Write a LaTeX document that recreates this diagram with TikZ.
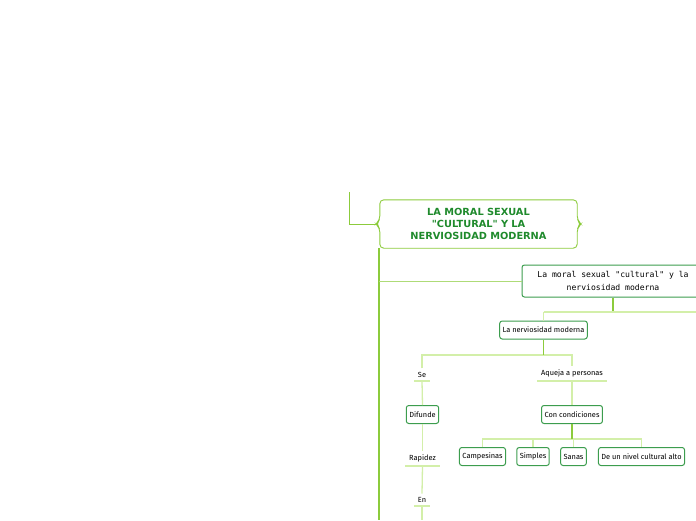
\documentclass[tikz,border=0pt]{standalone}
\usepackage{fontspec}
\setmainfont{Fira Sans}
\newfontfamily\titlefont{DejaVu Sans}
\newfontfamily\typefont{DejaVu Sans Mono}
\usetikzlibrary{positioning}

\definecolor{leaf}{HTML}{8CCB3C}
\definecolor{pale}{HTML}{D3EFA9}
\definecolor{deep}{HTML}{3C9D4E}
\definecolor{ink}{HTML}{1F8A2C}

\begin{document}
\begin{tikzpicture}[x=1pt, y=-1pt,
    box/.style={draw=deep, line width=1pt, rounded corners=2.5pt, fill=white,
        inner xsep=3pt, inner ysep=0pt, minimum height=18pt, font=\fontsize{7.4}{8}\selectfont},
    tag/.style={inner xsep=0pt, inner ysep=3.5pt, font=\fontsize{7.4}{8}\selectfont},
    stem/.style={leaf, line width=1.3pt},
    twig/.style={pale, line width=1.3pt}]

    \useasboundingbox (0,0) rectangle (696,520);
    \clip (0,0) rectangle (696,520);

    % Central topic
    \node[align=center, text width=180pt, minimum width=197pt, minimum height=48pt,
        text=ink, font=\titlefont\bfseries\fontsize{9.8}{12}\selectfont]
        (main) at (478.5,224) {LA MORAL SEXUAL\\ "CULTURAL" Y LA\\ NERVIOSIDAD MODERNA};
    \draw[leaf, line width=0.9pt, rounded corners=4pt]
        (main.north west) -- (main.north east) -- ([yshift=4pt]main.east)
        -- ([xshift=4pt]main.east) -- ([yshift=-4pt]main.east) -- (main.south east)
        -- (main.south west) -- ([yshift=-4pt]main.west) -- ([xshift=-4pt]main.west)
        -- ([yshift=4pt]main.west) -- cycle;

    % Free ends
    \coordinate (top) at (349,192);
    \coordinate (low) at (379,520);
    \coordinate (far) at (700,312);
    \coordinate (deep end) at (422,520);
    \coordinate (fork) at (543.5,355);
    \coordinate (rake) at (572,439);

    \draw[leaf, line width=0.9pt] (top) |- ([xshift=-4pt]main.west);
    \draw[leaf, line width=1.6pt] (main.south west -| low) -- (low);

    % First subtopic
    \node[box, font=\typefont\fontsize{8.1}{12.5}\selectfont, align=center,
        minimum width=182pt, minimum height=32pt] (moral) at (613,281)
        {La moral sexual "cultural" y la\\ nerviosidad moderna};
    \draw[leaf!70, line width=0.9pt] (moral.west -| low) -- (moral.west);

    \node[box] (nerv) at (543.5,330) {La nerviosidad moderna};
    \draw[stem] (moral.south) -- (moral.south |- far);
    \draw[pale, line width=2pt] (nerv.north |- far) -- (far);
    \draw[twig] (nerv.north |- far) -- (nerv.north);

    % Two branches
    \node[tag, anchor=south, minimum width=16pt] (se) at (422,381) {Se};
    \node[tag, anchor=south, minimum width=70pt] (aqueja) at (572,381) {Aqueja a personas};
    \draw[twig] (se.south west) -- (se.south east);
    \draw[twig] (aqueja.south west) -- (aqueja.south east);
    \draw[twig] (se.north) |- (fork) -| (aqueja.north);
    \draw[stem] (nerv.south) -- (fork);

    \node[box] (difunde) at (422.5,414.5) {Difunde};
    \node[box] (con) at (572,414.5) {Con condiciones};
    \draw[twig] (se.south) -- (difunde.north);
    \draw[twig] (aqueja.south) -- (con.north);

    % Left chain
    \node[tag, anchor=south, minimum width=35pt] (rapidez) at (422.5,466) {Rapidez};
    \node[tag, anchor=south, minimum width=16pt] (en) at (422,506) {En};
    \draw[twig] (rapidez.south west) -- (rapidez.south east);
    \draw[twig] (en.south west) -- (en.south east);
    \draw[twig] (difunde.south) -- (rapidez.north);
    \draw[twig] (rapidez.south) -- (en.north);
    \draw[twig] (en.south) -- (deep end);

    % Kinds of persons
    \node[box] (campesinas) at (482.5,456.5) {Campesinas};
    \node[box] (simples) at (533,456.5) {Simples};
    \node[box] (sanas) at (573.5,456.5) {Sanas};
    \node[box] (alto) at (641.5,456.5) {De un nivel cultural alto};
    \draw[twig] (campesinas.north) |- (rake) -| (alto.north);
    \draw[twig] (simples.north) -- (simples.north |- rake);
    \draw[twig] (sanas.north) -- (sanas.north |- rake);
    \draw[stem] (con.south) -- (rake);

\end{tikzpicture}
\end{document}
